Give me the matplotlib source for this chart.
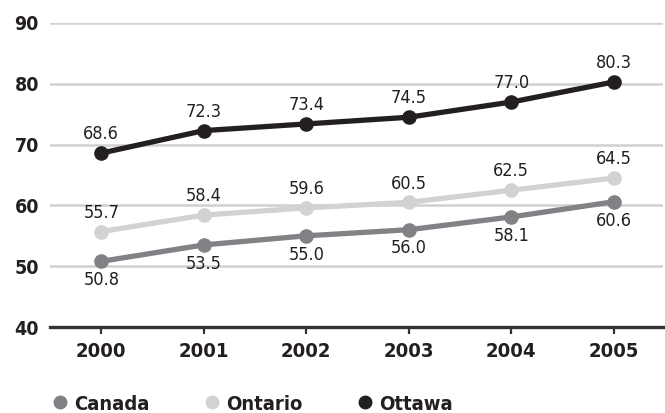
import matplotlib
matplotlib.use("Agg")
import matplotlib.pyplot as plt
from matplotlib.lines import Line2D

plt.rcParams['font.family'] = ['DejaVu Sans']
plt.rcParams['font.stretch'] = 'condensed'

years = [2000, 2001, 2002, 2003, 2004, 2005]
canada = [50.8, 53.5, 55.0, 56.0, 58.1, 60.6]
ontario = [55.7, 58.4, 59.6, 60.5, 62.5, 64.5]
ottawa = [68.6, 72.3, 73.4, 74.5, 77.0, 80.3]
names = ["Canada", "Ontario", "Ottawa"]
colors = ["#808285", "#d1d2d4", "#231f20"]
yticks = [40, 50, 60, 70, 80, 90]

fig = plt.figure(figsize=(6.65, 4.13), dpi=100)
ax = fig.add_axes([50 / 665, 1 - 327 / 413, 613 / 665, 304 / 413])

# series, label offset (points, + above / - below)
series = [(canada, -13.5), (ontario, 13.5), (ottawa, 13.5)]
for (vals, off), name, c in zip(series, names, colors):
    ax.plot(years, vals, color=c, lw=3.8, marker='o', ms=9.5, solid_capstyle='butt',
            zorder=3, label=name)
    for x, v in zip(years, vals):
        ax.annotate(f"{v:.1f}", (x, v), xytext=(0, off), textcoords='offset points',
                    ha='center', va='center', fontsize=13, color='#231f20')

ax.set_xlim(1999.5, 2005.48)
ax.set_ylim(40, 90)
ax.set_yticks(yticks)
ax.set_xticks(years)
ax.set_xticklabels([str(y) for y in years], fontsize=14.5, fontweight='bold', color='#231f20')
ax.set_yticklabels([str(t) for t in yticks], fontsize=14, fontweight='bold', color='#231f20')
ax.yaxis.grid(True, color='#d0d0d0', lw=1.8)
ax.set_axisbelow(True)
for s in ['top', 'right', 'left']:
    ax.spines[s].set_visible(False)
ax.spines['bottom'].set_color('#333333')
ax.spines['bottom'].set_linewidth(2.4)
ax.spines['bottom'].set_zorder(4)
ax.tick_params(axis='y', length=0, pad=8)
ax.tick_params(axis='x', direction='out', length=5, width=1.6, color='#333333', pad=6)

handles = [Line2D([], [], ls='none', marker='o', ms=9, color=c) for c in colors]
fig.legend(handles, names, loc='center left', bbox_to_anchor=(50 / 665, 1 - 404 / 413),
           ncol=3, frameon=False, borderpad=0, borderaxespad=0, handlelength=1.0,
           handletextpad=0.2, columnspacing=2.6,
           prop={'size': 14.5, 'weight': 'bold'}, labelcolor='#231f20')

fig.savefig("out.png", dpi=100)
